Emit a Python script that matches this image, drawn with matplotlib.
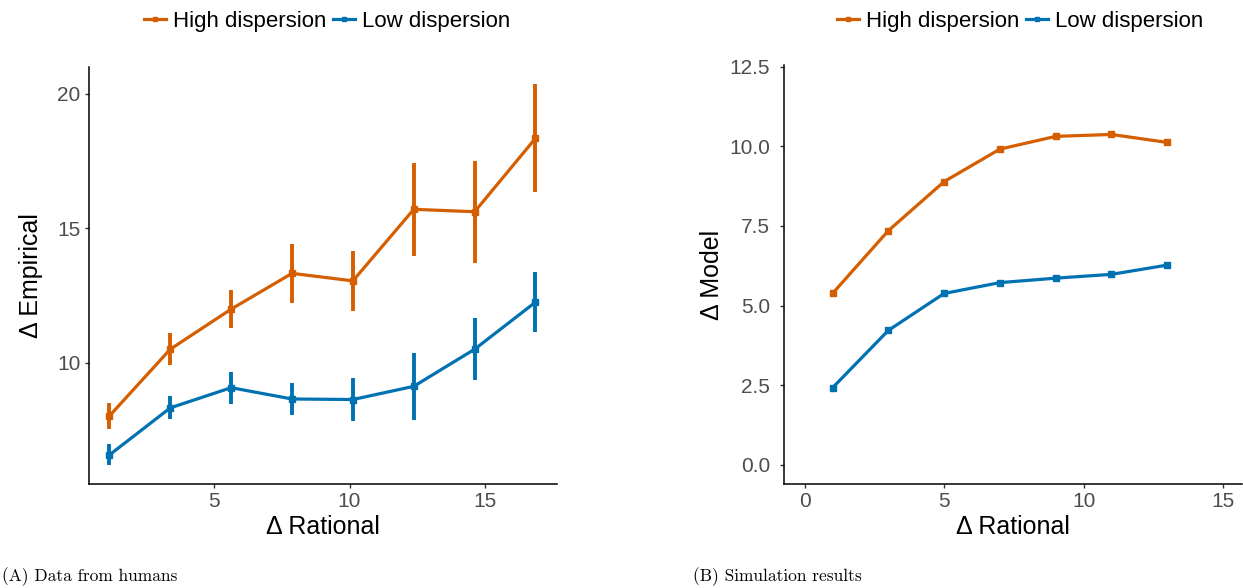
import matplotlib
matplotlib.use("Agg")
import matplotlib.pyplot as plt
from matplotlib.lines import Line2D

plt.rcParams['font.family'] = ['Liberation Sans', 'DejaVu Sans']

# panel A: data from humans
x_hum = [1.125, 3.375, 5.625, 7.875, 10.125, 12.375, 14.625, 16.875]
high_hum = [8.03, 10.51, 12.0, 13.33, 13.05, 15.71, 15.62, 18.35]
high_err = [0.47, 0.59, 0.71, 1.10, 1.12, 1.73, 1.89, 2.00]
low_hum = [6.58, 8.33, 9.08, 8.66, 8.64, 9.13, 10.51, 12.26]
low_err = [0.39, 0.43, 0.60, 0.60, 0.79, 1.25, 1.16, 1.12]

# panel B: simulation results
x_sim = [1, 3, 5, 7, 9, 11, 13]
high_sim = [5.38, 7.35, 8.89, 9.91, 10.31, 10.37, 10.12]
low_sim = [2.42, 4.22, 5.38, 5.72, 5.86, 5.98, 6.27]

labels = ['High dispersion', 'Low dispersion']
colors = ['#D55E00', '#0072B2']

W, H = 1243, 588
fig = plt.figure(figsize=(W / 100, H / 100), dpi=100)


def px_axes(x0, y0, x1, y1):
    return fig.add_axes([x0 / W, 1 - y1 / H, (x1 - x0) / W, (y1 - y0) / H])


def style(ax, ypad):
    for s in ['top', 'right']:
        ax.spines[s].set_visible(False)
    for s in ['left', 'bottom']:
        ax.spines[s].set_linewidth(1.1)
        ax.spines[s].set_color('black')
    ax.tick_params(direction='out', length=3, width=1.0, labelsize=15,
                   labelcolor='#4D4D4D', color='#333333', pad=3)
    ax.tick_params(axis='y', pad=ypad)


ax1 = px_axes(89, 67, 557, 484)
for yv, ev, c in [(high_hum, high_err, colors[0]), (low_hum, low_err, colors[1])]:
    ax1.errorbar(x_hum, yv, yerr=ev, color=c, lw=2.3, elinewidth=2.8,
                 capsize=0, marker='s', markersize=5)
ax1.set_xlim(0.37, 17.67)
ax1.set_ylim(5.5, 21.0)
ax1.set_xticks([5, 10, 15])
ax1.set_yticks([10, 15, 20])
ax1.set_xlabel('Δ Rational', fontsize=18, labelpad=3)
ax1.set_ylabel('Δ Empirical', fontsize=18, labelpad=10)
style(ax1, 3)

ax2 = px_axes(784, 65, 1242, 484)
for yv, c in [(high_sim, colors[0]), (low_sim, colors[1])]:
    ax2.plot(x_sim, yv, color=c, lw=2.3, marker='s', markersize=5)
ax2.set_xlim(-0.74, 15.68)
ax2.set_ylim(-0.6, 12.55)
ax2.set_xticks([0, 5, 10, 15])
ax2.set_yticks([0, 2.5, 5, 7.5, 10, 12.5])
ax2.set_yticklabels(['0.0', '2.5', '5.0', '7.5', '10.0', '12.5'])
ax2.set_xlabel('Δ Rational', fontsize=18, labelpad=3)
ax2.set_ylabel('Δ Model', fontsize=18, labelpad=4)
style(ax2, 7)

handles = [Line2D([], [], color=c, lw=2.3, marker='s', markersize=3.5) for c in colors]
for cx in [327, 1020]:
    fig.legend(handles, labels, loc='center', bbox_to_anchor=(cx / W, 1 - 21 / H),
               ncol=2, frameon=False, fontsize=16, handlelength=1.0,
               handletextpad=0.3, columnspacing=0.3, borderaxespad=0)

fig.text(2 / W, 2 / H, '(A) Data from humans', family='cmr10', fontsize=12.5,
         ha='left', va='bottom')
fig.text(693 / W, 2 / H, '(B) Simulation results', family='cmr10', fontsize=12.5,
         ha='left', va='bottom')

fig.savefig('out.png', dpi=100)
